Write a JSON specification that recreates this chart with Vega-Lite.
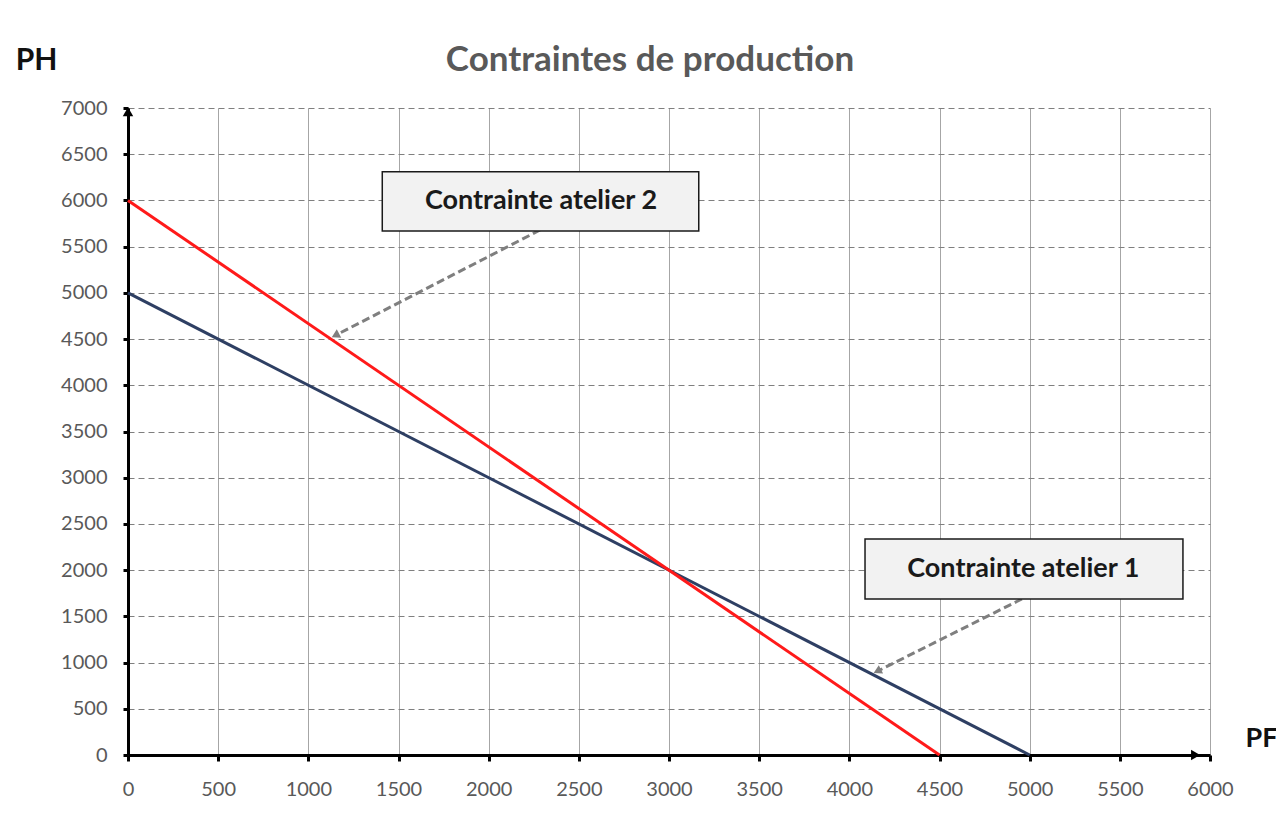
{
  "$schema": "https://vega.github.io/schema/vega-lite/v6.json",
  "autosize": "none",
  "width": 1082,
  "height": 647,
  "padding": {"left": 128, "top": 108, "right": 66, "bottom": 59},
  "background": "white",
  "title": {
    "text": "Contraintes de production",
    "font": "Lato",
    "fontSize": 35,
    "fontWeight": "bold",
    "color": "#595959",
    "anchor": "middle",
    "dx": -19,
    "offset": -33
  },
  "config": {
    "view": {"stroke": null},
    "font": "Lato"
  },
  "datasets": {
    "lines": [
      {"PF": 0, "PH": 5000, "serie": "Contrainte atelier 1"},
      {"PF": 5000, "PH": 0, "serie": "Contrainte atelier 1"},
      {"PF": 0, "PH": 6000, "serie": "Contrainte atelier 2"},
      {"PF": 4500, "PH": 0, "serie": "Contrainte atelier 2"}
    ],
    "axisArrows": [
      {"PF": 0, "PH": 6960, "angle": 0},
      {"PF": 5920, "PH": 0, "angle": 90}
    ],
    "boxes": [
      {"label": "Contrainte atelier 2", "x1": 1410, "x2": 3165, "y1": 6310, "y2": 5670, "tx": 2290, "ty": 5995},
      {"label": "Contrainte atelier 1", "x1": 4087, "x2": 5850, "y1": 2337, "y2": 1688, "tx": 4965, "ty": 2012}
    ],
    "pointers": [
      {"x1": 2285, "y1": 5680, "x2": 1150, "y2": 4540, "angle": 242},
      {"x1": 4957, "y1": 1688, "x2": 4155, "y2": 906, "angle": 243}
    ]
  },
  "layer": [
    {
      "data": {"name": "lines"},
      "mark": {"type": "line", "strokeWidth": 3},
      "encoding": {
        "x": {
          "field": "PF", "type": "quantitative",
          "scale": {"domain": [0, 6000], "nice": false, "zero": false},
          "axis": {
            "title": "PF",
            "format": "d",
            "labelFlush": false,
            "values": [0, 500, 1000, 1500, 2000, 2500, 3000, 3500, 4000, 4500, 5000, 5500, 6000],
            "grid": true, "gridColor": "#A6A6A6", "gridWidth": 1,
            "domainColor": "black", "domainWidth": 3,
            "tickColor": "black", "tickWidth": 3, "tickSize": 6,
            "labelFont": "Lato", "labelFontSize": 20, "labelColor": "#595959", "labelPadding": 18,
            "titleFont": "Lato", "titleFontSize": 27, "titleFontWeight": "bold", "titleColor": "#111111",
            "titleX": 1117, "titleY": -17, "titleAlign": "left", "titleBaseline": "middle", "titleAngle": 0
          }
        },
        "y": {
          "field": "PH", "type": "quantitative",
          "scale": {"domain": [0, 7000], "nice": false, "zero": false},
          "axis": {
            "title": "PH",
            "format": "d",
            "labelFlush": false,
            "values": [0, 500, 1000, 1500, 2000, 2500, 3000, 3500, 4000, 4500, 5000, 5500, 6000, 6500, 7000],
            "grid": true, "gridColor": "#7F7F7F", "gridWidth": 1, "gridDash": [6, 4],
            "domainColor": "black", "domainWidth": 3,
            "tickColor": "black", "tickWidth": 3, "tickSize": 5,
            "labelFont": "Lato", "labelFontSize": 20, "labelColor": "#595959", "labelPadding": 16,
            "titleFont": "Lato", "titleFontSize": 30, "titleFontWeight": "bold", "titleColor": "#111111",
            "titleX": -92, "titleY": -48, "titleAlign": "center", "titleBaseline": "middle", "titleAngle": 0
          }
        },
        "color": {
          "field": "serie", "type": "nominal",
          "scale": {"domain": ["Contrainte atelier 1", "Contrainte atelier 2"], "range": ["#2E3F63", "#FF1A1A"]},
          "legend": null
        }
      }
    },
    {
      "data": {"name": "axisArrows"},
      "mark": {"type": "point", "shape": "triangle-up", "filled": true, "color": "black", "size": 110, "opacity": 1},
      "encoding": {
        "x": {"field": "PF", "type": "quantitative"},
        "y": {"field": "PH", "type": "quantitative"},
        "angle": {"field": "angle", "type": "quantitative", "scale": null}
      }
    },
    {
      "data": {"name": "pointers"},
      "mark": {"type": "rule", "color": "#7F7F7F", "strokeWidth": 3, "strokeDash": [8, 4]},
      "encoding": {
        "x": {"field": "x1", "type": "quantitative"},
        "y": {"field": "y1", "type": "quantitative"},
        "x2": {"field": "x2"},
        "y2": {"field": "y2"}
      }
    },
    {
      "data": {"name": "pointers"},
      "mark": {"type": "point", "shape": "triangle-up", "filled": true, "color": "#7F7F7F", "size": 90, "opacity": 1},
      "encoding": {
        "x": {"field": "x2", "type": "quantitative"},
        "y": {"field": "y2", "type": "quantitative"},
        "angle": {"field": "angle", "type": "quantitative", "scale": null}
      }
    },
    {
      "data": {"name": "boxes"},
      "mark": {"type": "rect", "fill": "#A6A6A6", "opacity": 0.5, "xOffset": 3, "yOffset": 3},
      "encoding": {
        "x": {"field": "x1", "type": "quantitative"},
        "x2": {"field": "x2"},
        "y": {"field": "y1", "type": "quantitative"},
        "y2": {"field": "y2"}
      }
    },
    {
      "data": {"name": "boxes"},
      "mark": {"type": "rect", "fill": "#F2F2F2", "stroke": "#1A1A1A", "strokeWidth": 1.5},
      "encoding": {
        "x": {"field": "x1", "type": "quantitative"},
        "x2": {"field": "x2"},
        "y": {"field": "y1", "type": "quantitative"},
        "y2": {"field": "y2"}
      }
    },
    {
      "data": {"name": "boxes"},
      "mark": {"type": "text", "font": "Lato", "fontSize": 27, "fontWeight": "bold", "color": "#1A1A1A", "align": "center", "baseline": "middle"},
      "encoding": {
        "x": {"field": "tx", "type": "quantitative"},
        "y": {"field": "ty", "type": "quantitative"},
        "text": {"field": "label"}
      }
    }
  ]
}
